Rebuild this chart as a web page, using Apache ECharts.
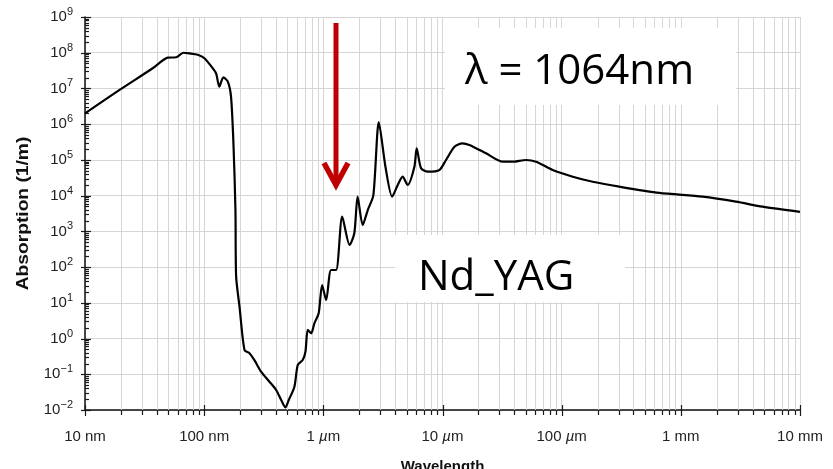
<!DOCTYPE html>
<html><head><meta charset="utf-8">
<script src="https://cdn.jsdelivr.net/npm/echarts@6/dist/echarts.min.js"></script>
<style>html,body{margin:0;padding:0;background:#fff}#c{width:833px;height:469px}</style>
</head><body><div id="c"></div>
<script>
// ---- data (wavelength in metres, absorption in 1/m) ----
const wavelength = [
  1.0e-8, 1.95e-8, 3.7e-8, 4.95e-8, 5.82e-8, 6.7e-8, 7.54e-8, 8.83e-8, 1.006e-7, 1.18e-7,
  1.26e-7, 1.34e-7, 1.45e-7, 1.58e-7, 1.68e-7, 1.76e-7, 1.83e-7, 1.855e-7, 1.98e-7, 2.18e-7,
  2.4e-7, 2.64e-7, 3.0e-7, 3.53e-7, 4.02e-7, 4.43e-7, 4.81e-7, 5.13e-7, 5.72e-7, 6.1e-7,
  6.71e-7, 7.08e-7, 7.4e-7, 7.91e-7, 8.41e-7, 9.14e-7, 9.77e-7, 1.056e-6, 1.16e-6, 1.28e-6,
  1.44e-6, 1.66e-6, 1.82e-6, 1.94e-6, 2.14e-6, 2.36e-6, 2.63e-6, 2.92e-6, 3.32e-6, 3.78e-6,
  4.21e-6, 4.63e-6, 5.1e-6, 5.81e-6, 6.07e-6, 6.61e-6, 7.52e-6, 9.42e-6, 1.07e-5, 1.26e-5,
  1.47e-5, 1.68e-5, 2.32e-5, 3.2e-5, 3.88e-5, 5.02e-5, 6.1e-5, 8.4e-5, 1.24e-4, 1.82e-4,
  3.05e-4, 6.6e-4, 1.52e-3, 2.9e-3, 4.85e-3, 1.0e-2
];
const absorption = [
  2.0e6, 9.1e6, 3.67e7, 7.26e7, 7.45e7, 1.0e8, 9.6e7, 8.8e7, 6.98e7, 3.67e7,
  2.65e7, 1.12e7, 2.05e7, 1.55e7, 5.9e6, 2.98e5, 3.96e3, 54, 7.8, 0.48,
  0.39, 0.25, 0.118, 0.062, 0.0363, 0.0191, 0.0119, 0.0191, 0.045, 0.182,
  0.25, 0.43, 1.74, 1.4, 2.67, 5.1, 31.5, 12, 83, 83,
  2.58e3, 416, 884, 9.35e3, 1.51e3, 3.96e3, 1.04e4, 1.15e6, 6.46e4, 9.35e3,
  1.99e4, 3.39e4, 1.99e4, 6.46e4, 2.11e5, 5.82e4, 4.68e4, 5.22e4, 9.95e4, 2.34e5,
  2.92e5, 2.62e5, 1.53e5, 8.9e4, 8.9e4, 9.95e4, 8.9e4, 5.22e4, 3.39e4, 2.45e4,
  1.78e4, 1.19e4, 9.35e3, 6.8e3, 4.9e3, 3.5e3
];
const xTickExps = [-8, -7, -6, -5, -4, -3, -2];
const xTickLabels = ['10 nm', '100 nm', '1 {i|µ}m', '10 {i|µ}m', '100 {i|µ}m', '1 mm', '10 mm'];
const yTickExps = [-2, -1, 0, 1, 2, 3, 4, 5, 6, 7, 8, 9];
const xAxisTitle = 'Wavelength';
const yAxisTitle = 'Absorption (1/m)';
const noteLambda = 'λ = 1064nm';
const noteMaterial = 'Nd_YAG';
const arrowWavelength = 1.25e-6;

// ---- build ----
const xMin = Math.pow(10, xTickExps[0]), xMax = Math.pow(10, xTickExps[xTickExps.length - 1]);
const yMin = Math.pow(10, yTickExps[0]), yMax = Math.pow(10, yTickExps[yTickExps.length - 1]);
const series = wavelength.map((w, i) => [w, absorption[i]]);

// axis decorations: [x, y, kind] kind 0 x-minor, 1 x-major, 2 y-minor, 3 y-major
const deco = [];
for (let e = xTickExps[0]; e < xTickExps[xTickExps.length - 1]; e++)
  for (let k = 2; k <= 9; k++) deco.push([k * Math.pow(10, e), 1, 0]);
xTickExps.forEach(e => deco.push([Math.pow(10, e), 1, 1]));
for (let e = yTickExps[0]; e < yTickExps[yTickExps.length - 1]; e++)
  for (let k = 2; k <= 9; k++) deco.push([xMin, k * Math.pow(10, e), 2]);
yTickExps.forEach(e => deco.push([xMin, Math.pow(10, e), 3]));

function renderDeco(params, api) {
  const kind = api.value(2);
  const tick = (x1, y1, x2, y2) => ({type: 'line', shape: {x1, y1, x2, y2}, style: {stroke: '#1a1a1a', lineWidth: 1.2}});
  if (kind === 0 || kind === 1) {
    const top = api.coord([api.value(0), yMax]);
    const bot = api.coord([api.value(0), yMin]);
    const x = Math.round(bot[0]) + 0.5;
    const ch = [];
    if (kind === 0) {
      ch.push({type: 'line', shape: {x1: x, y1: top[1], x2: x, y2: bot[1]}, style: {stroke: '#d6d6d6', lineWidth: 1}});
      ch.push(tick(x, bot[1], x, bot[1] + 5));
    } else {
      ch.push(tick(x, bot[1] - 5, x, bot[1] + 6));
    }
    return {type: 'group', children: ch};
  } else {
    const p = api.coord([xMin, api.value(1)]);
    const y = Math.round(p[1]) + 0.5;
    if (kind === 2) return tick(p[0], y, p[0] + 4, y);
    return tick(p[0] - 4, y, p[0] + 6, y);
  }
}

const chart = echarts.init(document.getElementById('c'), null, {renderer: 'canvas'});
const labelFont = '"Liberation Sans", Arial, Helvetica, sans-serif';
chart.setOption({
  animation: false,
  backgroundColor: '#fff',
  grid: {left: 85, right: 33, top: 17, bottom: 59, containLabel: false, outerBoundsMode: 'none'},
  xAxis: {
    type: 'log', logBase: 10, min: xMin, max: xMax, interval: 1,
    name: xAxisTitle, nameLocation: 'middle', nameGap: 49,
    nameTextStyle: {fontFamily: labelFont, fontWeight: 'bold', fontSize: 15, color: '#111'},
    axisLine: {lineStyle: {color: '#111', width: 1.5}},
    axisTick: {show: false},
    minorTick: {show: false},
    axisLabel: {
      margin: 19, fontFamily: labelFont, fontSize: 15, color: '#222',
      formatter: v => { const e = Math.round(Math.log10(v)); const i = xTickExps.indexOf(e); return i >= 0 ? xTickLabels[i] : ''; },
      rich: {i: {fontStyle: 'italic', fontFamily: labelFont, fontSize: 15, color: '#222'}}
    },
    splitLine: {show: true, lineStyle: {color: '#d6d6d6', width: 1}}
  },
  yAxis: {
    type: 'log', logBase: 10, min: yMin, max: yMax, interval: 1,
    axisLine: {lineStyle: {color: '#111', width: 1.5}},
    axisTick: {show: false},
    axisLabel: {
      margin: 12, fontFamily: labelFont, color: '#222',
      formatter: v => { const e = Math.round(Math.log10(v)); return '{b|10}{s|' + (e < 0 ? '\u2212' + (-e) : e) + '}'; },
      rich: {
        b: {fontSize: 15, fontFamily: labelFont, color: '#222'},
        s: {fontSize: 11, fontFamily: labelFont, color: '#222', padding: [0, 0, 10, 0]}
      }
    },
    splitLine: {show: true, lineStyle: {color: '#d6d6d6', width: 1}}
  },
  series: [
    {type: 'custom', data: deco, renderItem: renderDeco, clip: false, silent: true, z: 1,
     encode: {x: 0, y: 1}},
    {type: 'line', data: series, showSymbol: false, smooth: 0.25, z: 5, silent: true,
     lineStyle: {color: '#000', width: 2.2}}
  ]
});

// annotations
const arrowTop = chart.convertToPixel({gridIndex: 0}, [arrowWavelength, yMax]);
const ax = Math.round(arrowTop[0]) + 1;
const gridMidY = (chart.convertToPixel({gridIndex: 0}, [xMin, yMin])[1] + chart.convertToPixel({gridIndex: 0}, [xMin, yMax])[1]) / 2;
chart.setOption({
  graphic: [
    {type: 'text', z: 40, x: 24, y: gridMidY, rotation: Math.PI / 2, scaleX: 1.2,
     style: {text: yAxisTitle, font: 'bold 16px ' + labelFont, fill: '#111', align: 'center', verticalAlign: 'middle'}},
    {type: 'rect', z: 50, shape: {x: 445, y: 28, width: 291, height: 77}, style: {fill: '#fff'}},
    {type: 'text', z: 51, style: {x: 465, y: 72, text: noteLambda, font: '42px "Open Sans", "Noto Sans", sans-serif', fill: '#000', verticalAlign: 'middle'}},
    {type: 'rect', z: 50, shape: {x: 395, y: 235, width: 230, height: 67}, style: {fill: '#fff'}},
    {type: 'text', z: 51, style: {x: 418, y: 278, text: noteMaterial, font: '42px "Open Sans", "Noto Sans", sans-serif', fill: '#000', verticalAlign: 'middle'}},
    {type: 'line', z: 60, shape: {x1: ax, y1: 23, x2: ax, y2: 182}, style: {stroke: '#c00000', lineWidth: 5}},
    {type: 'polyline', z: 60, shape: {points: [[ax - 12, 163], [ax, 185], [ax + 12, 163]]}, style: {stroke: '#c00000', lineWidth: 5.5, fill: null, lineJoin: 'miter'}}
  ]
});
</script></body></html>
